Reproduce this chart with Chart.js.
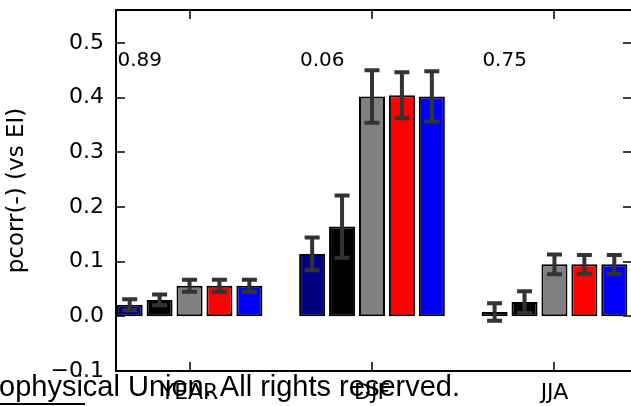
<!DOCTYPE html>
<html>
<head>
<meta charset="utf-8">
<script src="https://cdn.jsdelivr.net/npm/chart.js@4/dist/chart.umd.min.js"></script>
<style>
    html, body { margin: 0; padding: 0; background: #fff; overflow: hidden; }
    #wrap { width: 636px; height: 406px; }
</style>
</head>
<body>
<div id="wrap"><canvas id="pcorr_chart" width="636" height="406"></canvas></div>
<script>
// seasons on the x axis
const seasons = ["YEAR", "DJF", "JJA"];

// partial correlation per season, one array per bar colour
const navyVals = [0.021, 0.114, 0.008];
const blackVals = [0.030, 0.164, 0.026];
const grayVals = [0.056, 0.402, 0.095];
const redVals = [0.056, 0.404, 0.095];
const blueVals = [0.056, 0.402, 0.095];

// half-widths of the error bars
const navyErr = [0.010, 0.030, 0.016];
const blackErr = [0.010, 0.057, 0.020];
const grayErr = [0.011, 0.048, 0.018];
const redErr = [0.011, 0.042, 0.017];
const blueErr = [0.011, 0.046, 0.017];

// numbers printed at the top left of each group
const groupNotes = ["0.89", "0.06", "0.75"];
const noteLevel = 0.467;

const yTicks = [-0.1, 0.0, 0.1, 0.2, 0.3, 0.4, 0.5];

const FONT = "'DejaVu Sans', sans-serif";

function makeSet(label, values, errors, color) {
    return {
        label: label,
        data: values.map((v, i) => ({ x: i, y: v })),
        errors: errors,
        backgroundColor: color,
        borderColor: "#000",
        borderWidth: 2,
        borderSkipped: false,
    };
}

// error bars, notes, inward ticks and the frame are drawn on top of the bars
const decorations = {
    id: "decorations",
    afterDatasetsDraw(chart) {
        const ctx = chart.ctx;
        const xs = chart.scales.x;
        const ys = chart.scales.y;
        const area = chart.chartArea;

        ctx.save();
        ctx.beginPath();
        ctx.rect(area.left, area.top, area.right - area.left, area.bottom - area.top);
        ctx.clip();
        ctx.strokeStyle = "#333333";
        ctx.lineWidth = 4;
        chart.data.datasets.forEach((ds, di) => {
            const meta = chart.getDatasetMeta(di);
            meta.data.forEach((bar, i) => {
                const v = ds.data[i].y;
                const e = ds.errors[i];
                const top = ys.getPixelForValue(v + e);
                const bottom = ys.getPixelForValue(v - e);
                ctx.beginPath();
                ctx.moveTo(bar.x, top);
                ctx.lineTo(bar.x, bottom);
                ctx.moveTo(bar.x - 7.5, top);
                ctx.lineTo(bar.x + 7.5, top);
                ctx.moveTo(bar.x - 7.5, bottom);
                ctx.lineTo(bar.x + 7.5, bottom);
                ctx.stroke();
            });
        });
        ctx.restore();

        ctx.save();
        ctx.fillStyle = "#000";
        ctx.font = "20px " + FONT;
        ctx.textBaseline = "middle";
        ctx.textAlign = "left";
        groupNotes.forEach((txt, i) => {
            ctx.fillText(txt, xs.getPixelForValue(i - 0.395), ys.getPixelForValue(noteLevel));
        });

        ctx.strokeStyle = "#000";
        ctx.lineWidth = 1.5;
        ys.ticks.forEach((t) => {
            const py = Math.round(ys.getPixelForValue(t.value));
            ctx.beginPath();
            ctx.moveTo(area.left, py);
            ctx.lineTo(area.left + 9, py);
            ctx.moveTo(area.right, py);
            ctx.lineTo(area.right - 9, py);
            ctx.stroke();
        });
        xs.ticks.forEach((t) => {
            const px = Math.round(xs.getPixelForValue(t.value));
            ctx.beginPath();
            ctx.moveTo(px, area.top);
            ctx.lineTo(px, area.top + 9);
            ctx.moveTo(px, area.bottom);
            ctx.lineTo(px, area.bottom - 9);
            ctx.stroke();
        });

        ctx.lineWidth = 2;
        ctx.strokeRect(area.left, area.top, area.right - area.left, area.bottom - area.top);
        ctx.restore();
    },
    afterDraw(chart) {
        // copyright line running across the bottom of the figure
        const ctx = chart.ctx;
        ctx.save();
        ctx.fillStyle = "#000";
        ctx.font = "29px 'Liberation Sans', Arial, sans-serif";
        ctx.textBaseline = "alphabetic";
        ctx.textAlign = "left";
        ctx.fillText("ophysical Union. All rights reserved.", -1, 396);
        ctx.fillRect(0, 403, 85, 2);
        ctx.restore();
    },
};

const chart = new Chart(document.getElementById("pcorr_chart"), {
    type: "bar",
    data: {
        datasets: [
            makeSet("navy", navyVals, navyErr, "#000080"),
            makeSet("black", blackVals, blackErr, "#000000"),
            makeSet("gray", grayVals, grayErr, "#808080"),
            makeSet("red", redVals, redErr, "#ff0000"),
            makeSet("blue", blueVals, blueErr, "#0000ff"),
        ],
    },
    options: {
        responsive: false,
        animation: false,
        devicePixelRatio: 1,
        layout: { padding: { top: 10, right: 4, left: 0, bottom: 0 } },
        datasets: { bar: { categoryPercentage: 0.82, barPercentage: 0.87 } },
        plugins: { legend: { display: false }, tooltip: { enabled: false } },
        scales: {
            x: {
                type: "linear",
                min: -0.403,
                max: 2.425,
                offset: false,
                grid: { display: false, drawTicks: false },
                border: { display: false },
                afterBuildTicks: (scale) => { scale.ticks = seasons.map((s, i) => ({ value: i })); },
                afterFit: (scale) => {
                    scale.height = 35;
                    scale.paddingLeft = 0;
                    scale.paddingRight = 0;
                },
                ticks: {
                    autoSkip: false,
                    maxRotation: 0,
                    padding: 9,
                    color: "#000",
                    font: { family: FONT, size: 22 },
                    callback: (v) => seasons[v] || "",
                },
            },
            y: {
                min: -0.1,
                max: 0.56,
                grid: { display: false, drawTicks: false },
                border: { display: false },
                afterBuildTicks: (scale) => { scale.ticks = yTicks.map((v) => ({ value: v })); },
                afterFit: (scale) => {
                    scale.width = 116;
                    scale.paddingTop = 0;
                    scale.paddingBottom = 0;
                },
                ticks: {
                    padding: 12,
                    color: "#000",
                    font: { family: FONT, size: 22 },
                    callback: (v) => (v < 0 ? "\u2212" : "") + Math.abs(v).toFixed(1),
                },
                title: {
                    display: true,
                    text: "pcorr(-) (vs EI)",
                    color: "#000",
                    font: { family: FONT, size: 23 },
                    padding: { top: 3, bottom: 0 },
                },
            },
        },
    },
    plugins: [decorations],
});
</script>
</body>
</html>
